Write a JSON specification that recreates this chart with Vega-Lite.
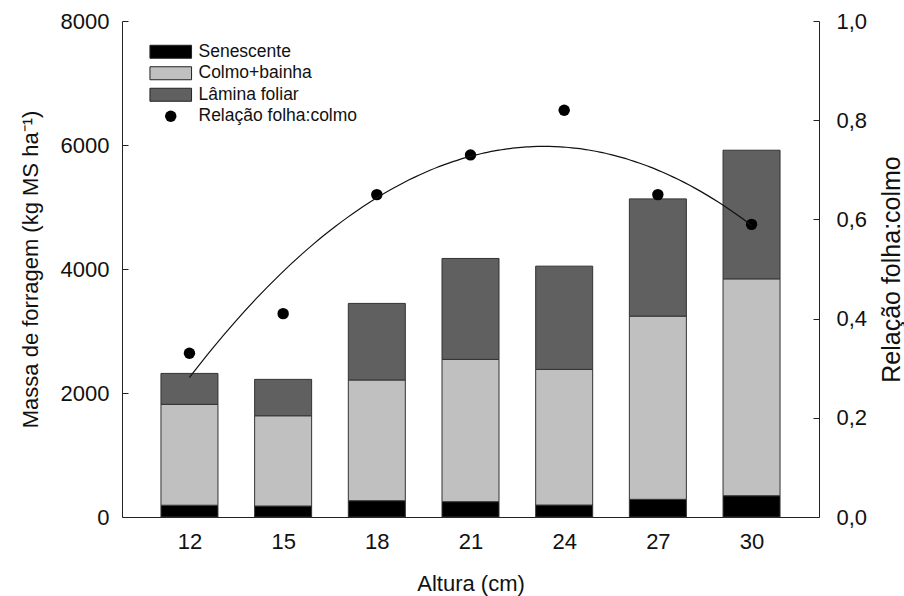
{
  "$schema": "https://vega.github.io/schema/vega-lite/v6.json",
  "width": 697,
  "height": 496,
  "autosize": {"type": "none"},
  "padding": {"left": 122, "top": 21, "right": 85, "bottom": 79},
  "background": "white",
  "config": {
    "font": "Liberation Sans",
    "view": {"stroke": null},
    "axis": {
      "grid": false,
      "domainColor": "#222",
      "tickColor": "#222",
      "labelColor": "#111",
      "titleColor": "#111",
      "labelFontSize": 22,
      "titleFontSize": 22,
      "titleFontWeight": "normal",
      "labelFont": "Liberation Sans",
      "titleFont": "Liberation Sans"
    },
    "legend": {
      "labelFont": "Liberation Sans",
      "labelFontSize": 17.5,
      "labelColor": "#111"
    }
  },
  "datasets": {
    "massa": [
      {"altura": 12, "componente": "Senescente", "massa": 190},
      {"altura": 12, "componente": "Colmo+bainha", "massa": 1627},
      {"altura": 12, "componente": "Lâmina foliar", "massa": 499},
      {"altura": 15, "componente": "Senescente", "massa": 177},
      {"altura": 15, "componente": "Colmo+bainha", "massa": 1456},
      {"altura": 15, "componente": "Lâmina foliar", "massa": 587},
      {"altura": 18, "componente": "Senescente", "massa": 263},
      {"altura": 18, "componente": "Colmo+bainha", "massa": 1947},
      {"altura": 18, "componente": "Lâmina foliar", "massa": 1235},
      {"altura": 21, "componente": "Senescente", "massa": 247},
      {"altura": 21, "componente": "Colmo+bainha", "massa": 2295},
      {"altura": 21, "componente": "Lâmina foliar", "massa": 1628},
      {"altura": 24, "componente": "Senescente", "massa": 193},
      {"altura": 24, "componente": "Colmo+bainha", "massa": 2188},
      {"altura": 24, "componente": "Lâmina foliar", "massa": 1665},
      {"altura": 27, "componente": "Senescente", "massa": 285},
      {"altura": 27, "componente": "Colmo+bainha", "massa": 2955},
      {"altura": 27, "componente": "Lâmina foliar", "massa": 1891},
      {"altura": 30, "componente": "Senescente", "massa": 343},
      {"altura": 30, "componente": "Colmo+bainha", "massa": 3498},
      {"altura": 30, "componente": "Lâmina foliar", "massa": 2075}
    ],
    "ordem": [
      {"componente": "Senescente", "ordem": 1},
      {"componente": "Colmo+bainha", "ordem": 2},
      {"componente": "Lâmina foliar", "ordem": 3}
    ],
    "relacao": [
      {"altura": 12, "relacao": 0.33},
      {"altura": 15, "relacao": 0.41},
      {"altura": 18, "relacao": 0.65},
      {"altura": 21, "relacao": 0.73},
      {"altura": 24, "relacao": 0.82},
      {"altura": 27, "relacao": 0.65},
      {"altura": 30, "relacao": 0.59}
    ]
  },
  "layer": [
    {
      "data": {"name": "massa"},
      "transform": [
        {"lookup": "componente", "from": {"data": {"name": "ordem"}, "key": "componente", "fields": ["ordem"]}}
      ],
      "mark": {"type": "bar", "size": 57, "stroke": "#333", "strokeWidth": 1},
      "encoding": {
        "x": {
          "field": "altura",
          "type": "quantitative",
          "scale": {"domain": [10, 32], "nice": false, "zero": false},
          "axis": {
            "title": "Altura (cm)",
            "values": [12, 15, 18, 21, 24, 27, 30],
            "ticks": false,
            "labelPadding": 14,
            "titlePadding": 21,
            "format": "d"
          }
        },
        "y": {
          "field": "massa",
          "type": "quantitative",
          "stack": "zero",
          "scale": {"domain": [0, 8000], "nice": false},
          "axis": {
            "title": "Massa de forragem (kg MS ha⁻¹)",
            "values": [0, 2000, 4000, 6000, 8000],
            "format": "d",
            "tickSize": -6,
            "labelPadding": 19,
            "titlePadding": 18
          }
        },
        "color": {
          "field": "componente",
          "type": "nominal",
          "scale": {
            "domain": ["Senescente", "Colmo+bainha", "Lâmina foliar", "Relação folha:colmo"],
            "range": ["#000000", "#c0c0c0", "#606060", "#000000"]
          },
          "legend": {
            "title": null,
            "orient": "none",
            "legendX": 40,
            "legendY": 22,
            "rowPadding": 2.5,
            "labelOffset": 19,
            "symbolSize": 169,
            "symbolStrokeColor": "#222",
            "symbolStrokeWidth": 1,
            "symbolOpacity": 1,
            "encode": {
              "symbols": {
                "update": {
                  "shape": {"signal": "datum.value === 'Relação folha:colmo' ? 'circle' : 'M-3.2,-1H3.2V1H-3.2Z'"},
                  "size": {"signal": "datum.value === 'Relação folha:colmo' ? 130 : 169"},
                  "stroke": {"signal": "datum.value === 'Relação folha:colmo' ? null : '#222'"}
                }
              }
            }
          }
        },
        "order": {"field": "ordem", "sort": "ascending"}
      }
    },
    {
      "data": {"name": "relacao"},
      "mark": {"type": "point", "filled": true, "size": 130, "opacity": 1},
      "encoding": {
        "x": {"field": "altura", "type": "quantitative"},
        "y": {
          "field": "relacao",
          "type": "quantitative",
          "scale": {"domain": [0, 1], "nice": false},
          "axis": {
            "orient": "right",
            "title": "Relação folha:colmo",
            "titleAngle": -90,
            "titleFontSize": 25,
            "values": [0, 0.2, 0.4, 0.6, 0.8, 1],
            "labelExpr": "replace(format(datum.value, '.1f'), '.', ',')",
            "tickSize": -6,
            "labelPadding": 23,
            "titlePadding": 38
          }
        },
        "color": {"datum": "Relação folha:colmo"}
      }
    },
    {
      "data": {"name": "relacao"},
      "transform": [
        {"regression": "relacao", "on": "altura", "method": "poly", "order": 2, "extent": [12, 30]}
      ],
      "mark": {"type": "line", "color": "#111", "strokeWidth": 1.2, "interpolate": "monotone"},
      "encoding": {
        "x": {"field": "altura", "type": "quantitative"},
        "y": {
          "field": "relacao",
          "type": "quantitative",
          "scale": {"domain": [0, 1], "nice": false},
          "axis": null
        }
      }
    }
  ],
  "resolve": {"scale": {"y": "independent"}, "axis": {"y": "independent"}}
}
